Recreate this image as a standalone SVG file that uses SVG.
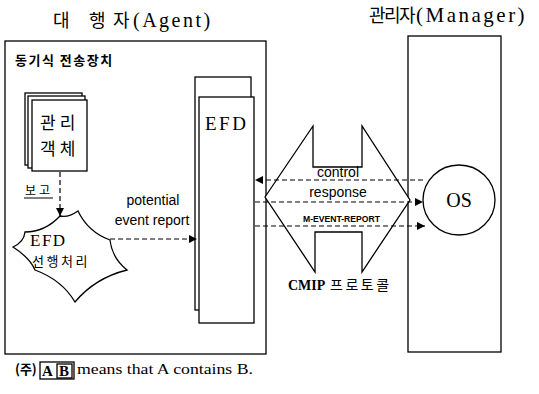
<svg xmlns="http://www.w3.org/2000/svg" width="539" height="394" viewBox="0 0 539 394">
<defs>
<style>
.ln{fill:none;stroke:#000;stroke-width:1.3}
.bx{fill:#fff;stroke:#000;stroke-width:1.3}
.ds{fill:none;stroke:#000;stroke-width:1.2;stroke-dasharray:5,3}
.ser{font-family:'Liberation Serif','DejaVu Serif',serif;fill:#000}
.san{font-family:'Liberation Sans',Arial,sans-serif;fill:#000}
.kr{font-family:'Noto Sans CJK KR',sans-serif;fill:#000}
</style>
<marker id="ah" viewBox="0 0 10 10" refX="10" refY="5" markerWidth="9" markerHeight="8" markerUnits="userSpaceOnUse" orient="auto"><path d="M0,0 L10,5 L0,10 Z" fill="#000"/></marker>
</defs>
<rect width="539" height="394" fill="#fff"/>

<g id="titles">
<text class="kr" x="53" y="27" font-size="18">대</text>
<text class="kr" x="89" y="27" font-size="18">행</text>
<text class="kr" x="113" y="27" font-size="18">자</text>
<text class="ser" x="133" y="27" font-size="20" letter-spacing="2.5">(Agent)</text>
<text class="kr" x="369" y="22" font-size="18" letter-spacing="-1.5">관리자</text>
<text class="ser" x="416" y="22" font-size="21" letter-spacing="2.5">(Manager)</text>
</g>

<g id="agent">
<rect class="ln" x="5" y="41" width="261" height="313"/>
<text class="kr" x="15" y="65" font-size="13" font-weight="bold" letter-spacing="1.5">동기식 전송장치</text>
</g>

<g id="manager">
<rect class="ln" x="408" y="36" width="93" height="316"/>
</g>

<g id="managed-object">
<rect class="bx" x="25" y="93" width="57" height="72"/>
<rect class="bx" x="28" y="96" width="57" height="72"/>
<rect class="bx" x="32" y="100" width="55" height="71"/>
<text class="kr" x="40" y="129" font-size="17" letter-spacing="4">관리</text>
<text class="kr" x="40" y="155" font-size="17" letter-spacing="4">객체</text>
</g>

<g id="efd-pre">
<path class="bx" d="M60,216 Q68,218 78,211 Q88,232 110,240 Q112,258 127,270 Q95,278 75,302 Q62,280 35,270 Q30,258 13,247 Q24,242 25,232 Q45,232 60,216 Z"/>
<text class="ser" x="30" y="246" font-size="17" letter-spacing="1.5">EFD</text>
<text class="kr" x="32" y="266" font-size="13" letter-spacing="2.5">선행처리</text>
</g>

<g id="efd">
<rect class="bx" x="195" y="77" width="56" height="233"/>
<rect class="bx" x="199" y="97" width="55" height="226"/>
<text class="ser" x="205" y="130" font-size="19" letter-spacing="2.5">EFD</text>
</g>

<g id="cmip">
<path class="bx" d="M265,197 L313,126 L313,167 L362,167 L362,126 L410,200 L362,272 L362,232 L315,232 L315,272 Z"/>
<text class="ser" x="288" y="290" font-size="14" font-weight="bold">CMIP</text>
<text class="kr" x="330" y="290" font-size="14" letter-spacing="2.5">프로토콜</text>
</g>

<g id="os">
<ellipse class="bx" cx="459" cy="200" rx="36" ry="35"/>
<text class="ser" x="459" y="207" font-size="20" text-anchor="middle">OS</text>
</g>

<g id="connectors">
<line class="ds" x1="60" y1="172" x2="60" y2="216" marker-end="url(#ah)"/>
<line class="ds" x1="110" y1="239" x2="197" y2="239" marker-end="url(#ah)"/>
<line class="ds" x1="423" y1="180" x2="255" y2="180" marker-end="url(#ah)"/>
<line class="ds" x1="255" y1="202" x2="423" y2="202" marker-end="url(#ah)"/>
<line class="ds" x1="255" y1="226" x2="425" y2="226" marker-end="url(#ah)"/>
</g>

<g id="labels">
<text class="kr" x="25" y="195" font-size="12" letter-spacing="3">보고</text>
<line x1="24" y1="198" x2="53" y2="198" stroke="#000" stroke-width="1"/>
<text class="san" x="153" y="205" font-size="14" text-anchor="middle">potential</text>
<text class="san" x="152" y="225" font-size="14" text-anchor="middle">event report</text>
<text class="san" x="338" y="177" font-size="14" text-anchor="middle">control</text>
<text class="san" x="338" y="197" font-size="14" text-anchor="middle">response</text>
<text class="san" x="303" y="222" font-size="9" font-weight="bold" textLength="77" lengthAdjust="spacingAndGlyphs">M-EVENT-REPORT</text>
</g>

<g id="note">
<text class="kr" x="15" y="374" font-size="13" font-weight="bold">(주)</text>
<rect class="ln" x="40" y="362" width="34" height="17"/>
<rect class="ln" x="57" y="364" width="15" height="14"/>
<text class="ser" x="42" y="376" font-size="15" font-weight="bold">A</text>
<text class="ser" x="59" y="376" font-size="15" font-weight="bold">B</text>
<text class="ser" x="77" y="374" font-size="14" textLength="176" lengthAdjust="spacingAndGlyphs">means that A contains B.</text>
</g>
</svg>
